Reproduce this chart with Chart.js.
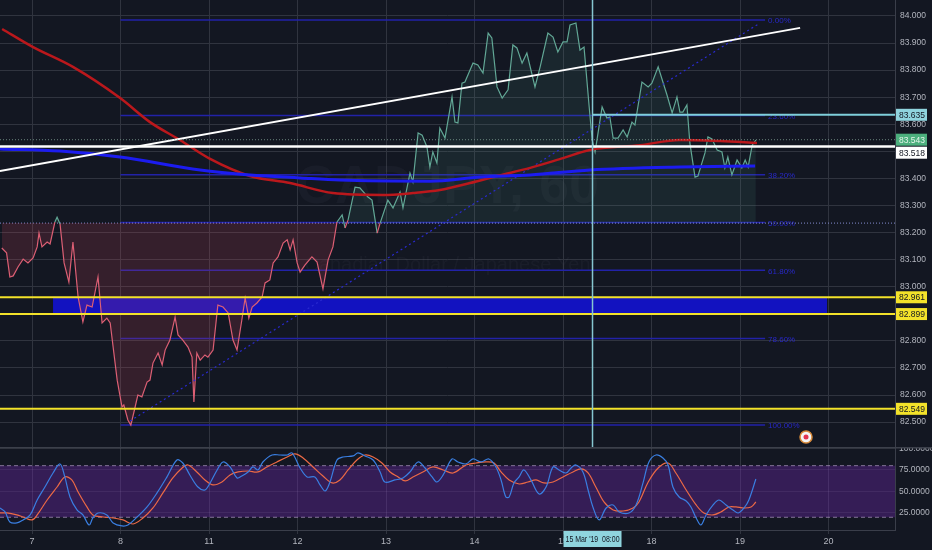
<!DOCTYPE html>
<html>
<head>
<meta charset="utf-8">
<script src="https://cdn.jsdelivr.net/npm/chart.js@4.4.1/dist/chart.umd.min.js"></script>
<style>
  html, body { margin: 0; padding: 0; background: #131722; }
  #wrap { position: relative; width: 932px; height: 550px; overflow: hidden; background: #131722; }
  #main { position: absolute; left: 0; top: 0; }
  #osc { position: absolute; left: 0; top: 447px; }
</style>
</head>
<body>
<div id="wrap">
  <canvas id="main" width="932" height="447"></canvas>
  <canvas id="osc" width="932" height="103"></canvas>
</div>
<script>
/* CADJPY 60 – price pane + stochastic pane */

// x values are trading hours counted from 7 Mar 00:00 (weekends skipped)
const dayTicks = [0, 24, 48, 72, 96, 120, 144, 168, 192, 216];
const dayLabels = ['7', '8', '11', '12', '13', '14', '15', '18', '19', '20'];
const priceTicks = [82.5, 82.6, 82.7, 82.8, 82.9, 83.0, 83.1, 83.2, 83.3, 83.4, 83.5, 83.6, 83.7, 83.8, 83.9, 84.0];
const oscTicks = [25, 50, 75, 100];

const priceHours = [
  -8.2, -6.9, -6.0, -5.1, -3.8, -2.4, -1.1, 0.3, 1.4, 1.9,
  2.7, 4.1, 4.9, 6.2, 6.8, 7.6, 8.7, 10.0, 11.1, 12.5,
  13.8, 14.9, 16.3, 17.9, 19.0, 20.3, 21.2, 23.1, 24.4, 24.9,
  26.0, 26.8, 27.9, 28.7, 29.8, 31.2, 32.0, 32.8, 34.2, 35.3,
  36.1, 37.4, 38.8, 39.6, 40.9, 42.3, 43.4, 43.9, 44.7, 45.6,
  46.9, 47.7, 49.1, 50.4, 51.8, 53.2, 54.5, 55.6, 56.9, 57.8,
  58.8, 59.7, 61.0, 62.4, 63.2, 64.5, 65.4, 66.7, 68.1, 69.2,
  70.0, 70.8, 71.9, 72.7, 74.0, 75.9, 77.3, 78.9, 80.3, 81.6,
  82.7, 84.1, 84.9, 85.7, 87.6, 88.9, 91.1, 92.2, 93.6, 94.4,
  96.5, 97.9, 99.8, 100.6, 102.5, 103.3, 104.7, 105.8, 107.1, 107.9,
  108.7, 109.8, 110.6, 112.0, 113.9, 114.7, 115.5, 116.6, 117.4, 119.6,
  120.9, 122.3, 123.7, 124.7, 126.1, 127.5, 129.1, 130.4, 131.5, 132.9,
  134.2, 136.4, 137.8, 139.9, 141.3, 142.6, 144.0, 145.1, 145.9, 147.5,
  148.6, 149.7, 151.1, 151.9, 152.7, 154.6, 155.9, 156.7, 157.6, 158.9,
  160.3, 161.4, 162.7, 163.5, 165.4, 167.1, 168.1, 169.8, 172.2, 173.6,
  174.9, 175.7, 176.5, 177.6, 178.4, 179.8, 180.6, 182.5, 183.3, 184.4,
  185.8, 187.1, 187.9, 188.7, 189.8, 191.2, 192.5, 193.4, 194.2, 195.3,
  196.3
];
const prices = [
  83.143, 83.125, 83.036, 83.040, 83.073, 83.102, 83.088, 83.106, 83.147, 83.198,
  83.147, 83.165, 83.158, 83.239, 83.257, 83.232, 83.088, 83.017, 83.165, 82.962,
  82.870, 82.932, 82.925, 83.036, 82.866, 82.884, 82.866, 82.655, 82.556, 82.563,
  82.508, 82.489, 82.552, 82.600, 82.593, 82.648, 82.655, 82.718, 82.755, 82.711,
  82.766, 82.803, 82.888, 82.822, 82.803, 82.777, 82.740, 82.574, 82.755, 82.729,
  82.748, 82.740, 82.766, 82.932, 82.925, 82.903, 82.803, 82.766, 82.877, 82.958,
  82.884, 82.925, 82.940, 82.962, 83.014, 83.025, 83.088, 83.110, 83.161, 83.173,
  83.136, 83.173, 83.088, 83.054, 83.080, 83.110, 83.091, 82.992, 83.099, 83.147,
  83.239, 83.265, 83.217, 83.246, 83.368, 83.365, 83.331, 83.320, 83.198, 83.235,
  83.320, 83.291, 83.350, 83.291, 83.420, 83.387, 83.568, 83.560, 83.516, 83.442,
  83.498, 83.457, 83.586, 83.549, 83.701, 83.608, 83.605, 83.752, 83.756, 83.826,
  83.819, 83.789, 83.937, 83.919, 83.738, 83.697, 83.727, 83.893, 83.882, 83.826,
  83.863, 83.738, 83.812, 83.937, 83.922, 83.867, 83.904, 83.904, 83.967, 83.974,
  83.874, 83.885, 83.664, 83.542, 83.498, 83.664, 83.623, 83.627, 83.549, 83.549,
  83.579, 83.553, 83.608, 83.597, 83.756, 83.738, 83.752, 83.812, 83.708, 83.642,
  83.701, 83.645, 83.645, 83.671, 83.531, 83.405, 83.409, 83.494, 83.553, 83.546,
  83.505, 83.498, 83.439, 83.479, 83.413, 83.468, 83.439, 83.468, 83.442, 83.523,
  83.542
];

const redMaHours = [-8.1, 0.3, 11.1, 23.9, 32.0, 40.1, 48.3, 59.1, 70.0, 81.6, 95.2,
  103.3, 110.6, 118.8, 126.1, 135.1, 144.0, 151.3, 164.9, 175.7, 186.6, 196.6];
const redMa = [83.952, 83.885, 83.812, 83.697, 83.608, 83.542, 83.472, 83.409, 83.383, 83.346, 83.339,
  83.346, 83.357, 83.383, 83.409, 83.439, 83.475, 83.505, 83.523, 83.542, 83.538, 83.531];

const blueMaHours = [-8.7, 7.6, 23.9, 45.6, 59.1, 72.7, 83.5, 107.9, 121.5, 135.1, 151.3, 175.7, 196.1];
const blueMa = [83.509, 83.501, 83.479, 83.431, 83.413, 83.402, 83.394, 83.390, 83.405, 83.413, 83.431, 83.442, 83.446];

const trendHours = [-8.7, 208.3];
const trendPrices = [83.427, 83.956];

const fibDiagHours = [26.6, 197.4];
const fibDiagPrices = [82.504, 83.974];

const fibTop = 83.985;
const fibBottom = 82.489;
const fibLevels = [0, 0.236, 0.382, 0.5, 0.618, 0.786, 1];
const fibLabels = ['0.00%', '23.60%', '38.20%', '50.00%', '61.80%', '78.60%', '100.00%'];
const fibSpan = [24, 198.8];

const yellowLevels = [82.961, 82.899, 82.549];
const whiteLevel = 83.518;
const cyanLevel = 83.635;
const lastPrice = 83.543;
const baseLevel = 83.235;
const bandPrices = [82.899, 82.961];
const bandHours = [5.7, 215.6];
const crossHour = 152;
const crossLabel = "15 Mar '19  08:00";
const eventPoint = { x: 209.9, y: 82.445 };

const kHours = [
  -8.7, -7.3, -6.0, -4.1, -2.4, -0.5, 1.4, 3.5, 5.7, 7.6,
  8.9, 10.3, 12.2, 13.8, 15.5, 16.5, 17.9, 20.3, 22.0, 24.4,
  26.0, 28.5, 31.2, 33.9, 36.6, 39.3, 40.9, 42.8, 45.0, 46.9,
  48.3, 50.2, 51.8, 53.7, 55.6, 56.9, 58.6, 59.9, 61.3, 62.6,
  65.1, 67.3, 69.2, 70.5, 72.7, 74.6, 76.7, 78.1, 79.5, 80.8,
  82.7, 84.3, 87.1, 88.4, 90.3, 92.5, 94.4, 95.7, 98.4, 100.6,
  102.5, 104.7, 106.6, 108.5, 109.8, 111.5, 113.9, 115.5, 117.7, 119.6,
  121.8, 123.9, 125.8, 127.2, 128.5, 129.4, 130.7, 132.1, 133.4, 135.3,
  137.5, 139.4, 141.3, 142.9, 144.8, 146.2, 147.5, 149.4, 150.8, 152.1,
  153.8, 155.7, 157.6, 159.2, 161.9, 163.8, 165.7, 167.3, 169.2, 171.1,
  172.5, 173.8, 175.5, 177.4, 178.7, 180.1, 181.4, 182.8, 184.7, 186.3,
  188.2, 190.1, 191.5, 193.1, 194.4, 196.3
];
const kValues = [
  30.8, 26.2, 14.5, 13.4, 16.9, 22.7, 40.1, 55.2, 71.5, 82,
  66.9, 43.6, 28.5, 22.7, 11, 19.2, 25, 22.7, 13.4, 9.9,
  11, 20.3, 32, 48.3, 66.9, 86.6, 83.1, 69.2, 55.2, 51.7,
  59.9, 75, 84.3, 78.5, 65.7, 68, 72.7, 78.5, 75, 84.3,
  92.4, 92.4, 92.4, 94.8, 77.3, 66.9, 66.9, 57.6, 50.6, 61,
  86.6, 90.1, 91.3, 94.8, 91.3, 86.6, 72.7, 61, 63.4, 65.7,
  72.7, 84.3, 77.3, 66.9, 61, 69.2, 87.8, 84.3, 82, 87.8,
  84.3, 87.8, 78.5, 63.4, 43.6, 43.6, 59.9, 66.9, 75, 63.4,
  47.1, 55.2, 78.5, 75, 71.5, 77.3, 80.8, 72.7, 51.7, 32,
  16.9, 30.8, 34.3, 26.2, 25, 34.3, 59.9, 84.3, 92.4, 88.9,
  80.8, 55.2, 43.6, 39, 32, 19.2, 11, 22.7, 34.3, 40.1,
  34.3, 28.5, 25, 30.8, 40.1, 64.5
];

const dHours = [
  -8.7, -6.8, -4.1, -2.4, 0, 1.4, 4.1, 6.8, 8.9, 10.8,
  12.5, 14.9, 16.5, 19.3, 22.0, 24.7, 27.4, 30.1, 32.8, 35.5,
  38.2, 40.7, 42.3, 44.7, 46.9, 49.1, 51.5, 53.7, 55.9, 58.6,
  61.3, 63.7, 66.4, 69.2, 71.3, 73.5, 76.2, 78.9, 81.4, 83.5,
  85.7, 88.1, 90.3, 92.5, 94.9, 97.1, 99.3, 101.2, 103.3, 106.0,
  108.7, 111.5, 114.2, 117.7, 120.4, 123.1, 125.3, 127.2, 129.4, 132.1,
  134.5, 136.7, 138.8, 141.3, 144.0, 146.7, 148.9, 150.8, 152.9, 155.1,
  157.6, 160.3, 163.0, 164.6, 167.1, 169.8, 172.5, 174.6, 177.4, 180.1,
  182.2, 184.7, 186.8, 189.0, 190.9, 193.1, 195.0, 196.3
];
const dValues = [
  25, 25, 22.7, 20.3, 16.9, 22.7, 40.1, 55.2, 66.9, 63.4,
  49.4, 32, 22.7, 20.3, 19.2, 16.9, 12.2, 19.2, 30.8, 48.3,
  65.7, 77.3, 80.8, 72.7, 63.4, 57.6, 61, 69.2, 72.7, 73.8,
  72.7, 78.5, 84.3, 90.1, 93.6, 89, 78.5, 68, 59.9, 63.4,
  75, 86.6, 92.4, 90.1, 83.1, 72.7, 66.9, 62.2, 66.9, 72.7,
  78.5, 75, 71.5, 80.8, 83.1, 84.3, 83.1, 72.7, 63.4, 58.7,
  61, 63.4, 59.9, 61, 66.9, 72.7, 76.2, 71.5, 55.2, 37.8,
  28.5, 27.3, 30.8, 37.8, 61, 77.3, 83.1, 71.5, 51.7, 34.3,
  25, 22.7, 26.2, 32, 32, 30.8, 32, 37.8
];
const oscBand = [20, 80];

const X_MIN = -8.68, X_MAX = 234.03;
const FONT = "'Liberation Sans', Arial, sans-serif";
const TXT = '#b2b5be';
const GRID = '#30343f';
const BORDER = '#3a3e4a';
const GREEN = '#62a896';
const RED = '#dc5f74';

const pts = (xs, ys) => xs.map((x, i) => ({ x, y: ys[i] }));

// scales must not reserve room for half labels – the panes butt against each other
function noPad(s) {
  s.paddingTop = 0;
  s.paddingBottom = 0;
  s.paddingLeft = 0;
  s.paddingRight = 0;
}

function hLine(ctx, x0, x1, y, color, width, dash) {
  ctx.beginPath();
  ctx.strokeStyle = color;
  ctx.lineWidth = width;
  ctx.setLineDash(dash || []);
  ctx.moveTo(x0, y);
  ctx.lineTo(x1, y);
  ctx.stroke();
  ctx.setLineDash([]);
}

const priceOverlay = {
  id: 'priceOverlay',
  beforeDatasetsDraw(chart) {
    const { ctx, chartArea: a, scales: { x, y } } = chart;
    ctx.save();
    // watermark
    ctx.fillStyle = 'rgba(130,135,150,0.06)';
    ctx.textAlign = 'center';
    ctx.textBaseline = 'middle';
    ctx.font = `bold 54px ${FONT}`;
    ctx.fillText('CADJPY, 60', (a.left + a.right) / 2, a.top + 188);
    ctx.font = `20px ${FONT}`;
    ctx.fillText('Canadian Dollar / Japanese Yen', (a.left + a.right) / 2, a.top + 265);

    // blue zone
    const bx0 = x.getPixelForValue(bandHours[0]);
    const bx1 = x.getPixelForValue(bandHours[1]);
    const by0 = y.getPixelForValue(bandPrices[1]);
    const by1 = y.getPixelForValue(bandPrices[0]);
    ctx.fillStyle = '#1212c0';
    ctx.fillRect(bx0, by0, bx1 - bx0, by1 - by0);

    // fib retracement
    const fx0 = x.getPixelForValue(fibSpan[0]);
    const fx1 = x.getPixelForValue(fibSpan[1]);
    ctx.font = `8px ${FONT}`;
    ctx.textAlign = 'left';
    fibLevels.forEach((lv, i) => {
      const py = y.getPixelForValue(fibTop - lv * (fibTop - fibBottom));
      hLine(ctx, fx0, fx1, py, '#2222a8', 1.5);
      ctx.fillStyle = '#2828c8';
      ctx.fillText(fibLabels[i], fx1 + 3, py + 1);
    });

    // baseline
    hLine(ctx, a.left, a.right, y.getPixelForValue(baseLevel), 'rgba(150,160,240,0.85)', 1, [1, 2]);
    ctx.restore();
  },
  afterDatasetsDraw(chart) {
    const { ctx, chartArea: a, scales: { x, y } } = chart;
    ctx.save();
    hLine(ctx, a.left, a.right, y.getPixelForValue(lastPrice), 'rgba(140,175,160,0.7)', 1, [1, 2]);
    hLine(ctx, a.left, a.right, y.getPixelForValue(whiteLevel), '#ffffff', 2.5);
    hLine(ctx, x.getPixelForValue(crossHour), a.right, y.getPixelForValue(cyanLevel), '#7fcfdb', 2);
    yellowLevels.forEach(v => hLine(ctx, a.left, a.right, y.getPixelForValue(v), '#f3e22a', 2));

    // crosshair
    const cx = x.getPixelForValue(crossHour);
    ctx.beginPath();
    ctx.strokeStyle = '#86c6d0';
    ctx.lineWidth = 1.5;
    ctx.moveTo(cx, a.top);
    ctx.lineTo(cx, a.bottom);
    ctx.stroke();
    ctx.restore();
  },
  afterDraw(chart) {
    const { ctx, chartArea: a, scales: { x, y } } = chart;
    ctx.save();
    const boxes = [
      { v: cyanLevel, bg: '#8fd4de', fg: '#131722' },
      { v: lastPrice, bg: '#4caf7d', fg: '#e4f4ea' },
      { v: whiteLevel, bg: '#ffffff', fg: '#131722' },
      { v: yellowLevels[0], bg: '#f3e22a', fg: '#131722' },
      { v: yellowLevels[1], bg: '#f3e22a', fg: '#131722' },
      { v: yellowLevels[2], bg: '#f3e22a', fg: '#131722' },
    ];
    ctx.font = `8.5px ${FONT}`;
    ctx.textBaseline = 'middle';
    ctx.textAlign = 'left';
    // stack labels downwards when they would overlap, like the price scale does
    let prevBottom = -Infinity;
    boxes
      .map(b => ({ ...b, py: y.getPixelForValue(b.v) }))
      .sort((p, q) => p.py - q.py)
      .forEach(b => {
        const cy = Math.max(b.py, prevBottom + 7);
        prevBottom = cy + 6;
        ctx.fillStyle = b.bg;
        ctx.fillRect(a.right + 1, cy - 6, 31, 12);
        ctx.fillStyle = b.fg;
        ctx.fillText(b.v.toFixed(3), a.right + 4, cy + 0.5, 27);
      });

    // event marker
    const ex = x.getPixelForValue(eventPoint.x);
    const ey = y.getPixelForValue(eventPoint.y);
    ctx.beginPath();
    ctx.arc(ex, ey, 6, 0, Math.PI * 2);
    ctx.fillStyle = '#f4f4f4';
    ctx.fill();
    ctx.lineWidth = 1.5;
    ctx.strokeStyle = '#d98a3a';
    ctx.stroke();
    ctx.beginPath();
    ctx.arc(ex, ey, 2.5, 0, Math.PI * 2);
    ctx.fillStyle = '#e2334f';
    ctx.fill();
    ctx.restore();
  }
};

const oscOverlay = {
  id: 'oscOverlay',
  beforeDatasetsDraw(chart) {
    const { ctx, chartArea: a, scales: { y } } = chart;
    ctx.save();
    const y80 = y.getPixelForValue(oscBand[1]);
    const y20 = y.getPixelForValue(oscBand[0]);
    ctx.fillStyle = 'rgba(110,40,170,0.38)';
    ctx.fillRect(a.left, y80, a.right - a.left, y20 - y80);
    hLine(ctx, a.left, a.right, y80, 'rgba(185,165,205,0.65)', 1, [4, 3]);
    hLine(ctx, a.left, a.right, y20, 'rgba(185,165,205,0.65)', 1, [4, 3]);
    ctx.restore();
  },
  afterDraw(chart) {
    const { ctx, chartArea: a, scales: { x } } = chart;
    ctx.save();
    hLine(ctx, 0, chart.width, a.top + 0.5, '#3c404b', 2);
    const cx = x.getPixelForValue(crossHour);
    ctx.fillStyle = '#8fd4de';
    ctx.fillRect(cx - 29, a.bottom + 1, 58, 16);
    ctx.fillStyle = '#131722';
    ctx.font = `9.5px ${FONT}`;
    ctx.textAlign = 'center';
    ctx.textBaseline = 'middle';
    ctx.fillText(crossLabel, cx, a.bottom + 9.5, 54);
    ctx.restore();
  }
};

const xAxisBase = {
  type: 'linear',
  min: X_MIN,
  max: X_MAX,
  afterBuildTicks: s => { s.ticks = dayTicks.map(v => ({ value: v })); },
};

new Chart(document.getElementById('main'), {
  type: 'line',
  data: {
    datasets: [
      {
        data: pts(priceHours, prices),
        borderColor: GREEN,
        borderWidth: 1.2,
        pointRadius: 0,
        fill: { target: { value: baseLevel }, above: 'rgba(80,160,140,0.12)', below: 'rgba(200,70,90,0.19)' },
        segment: {
          borderColor: c => ((c.p0.parsed.y + c.p1.parsed.y) / 2 >= baseLevel ? GREEN : RED),
        },
        order: 5,
      },
      {
        data: pts(fibDiagHours, fibDiagPrices),
        borderColor: '#2a2ad0',
        borderWidth: 1.2,
        borderDash: [2, 3],
        pointRadius: 0,
        order: 4,
      },
      {
        data: pts(redMaHours, redMa),
        borderColor: '#bb181c',
        borderWidth: 2.5,
        pointRadius: 0,
        cubicInterpolationMode: 'monotone',
        order: 3,
      },
      {
        data: pts(blueMaHours, blueMa),
        borderColor: '#1c1cf0',
        borderWidth: 3,
        pointRadius: 0,
        cubicInterpolationMode: 'monotone',
        order: 2,
      },
      {
        data: pts(trendHours, trendPrices),
        borderColor: '#ffffff',
        borderWidth: 2,
        pointRadius: 0,
        order: 1,
      },
    ],
  },
  options: {
    responsive: false,
    animation: false,
    layout: { padding: 0 },
    plugins: { legend: { display: false }, tooltip: { enabled: false } },
    scales: {
      x: {
        ...xAxisBase,
        ticks: { display: false },
        grid: { color: GRID, drawTicks: false },
        border: { display: false },
        afterFit: s => { s.height = 0; noPad(s); },
      },
      y: {
        position: 'right',
        min: 82.408,
        max: 84.059,
        afterBuildTicks: s => { s.ticks = priceTicks.map(v => ({ value: v })); },
        ticks: { color: TXT, font: { size: 8.5, family: FONT }, padding: 5, callback: v => v.toFixed(3) },
        grid: { color: GRID, drawTicks: false },
        border: { color: BORDER },
        afterFit: s => { s.width = 37; noPad(s); },
      },
    },
  },
  plugins: [priceOverlay],
});

new Chart(document.getElementById('osc'), {
  type: 'line',
  data: {
    datasets: [
      {
        data: pts(kHours, kValues),
        borderColor: '#3a7fe2',
        borderWidth: 1.2,
        pointRadius: 0,
        tension: 0.35,
      },
      {
        data: pts(dHours, dValues),
        borderColor: '#ec6a46',
        borderWidth: 1.2,
        pointRadius: 0,
        tension: 0.35,
      },
    ],
  },
  options: {
    responsive: false,
    animation: false,
    layout: { padding: 0 },
    plugins: { legend: { display: false }, tooltip: { enabled: false } },
    scales: {
      x: {
        ...xAxisBase,
        ticks: { color: TXT, font: { size: 9, family: FONT }, padding: 2, maxRotation: 0, callback: (v, i) => dayLabels[i] },
        grid: { color: GRID, tickLength: 4 },
        border: { color: BORDER },
        afterFit: s => { s.height = 20; noPad(s); },
      },
      y: {
        position: 'right',
        min: 5.2,
        max: 101.7,
        afterBuildTicks: s => { s.ticks = oscTicks.map(v => ({ value: v })); },
        ticks: { color: TXT, font: { size: 8.5, family: FONT }, padding: 4, callback: v => v.toFixed(4) },
        grid: { color: 'rgba(255,255,255,0.09)', drawTicks: false },
        border: { color: BORDER },
        afterFit: s => { s.width = 37; noPad(s); },
      },
    },
  },
  plugins: [oscOverlay],
});
</script>
</body>
</html>
